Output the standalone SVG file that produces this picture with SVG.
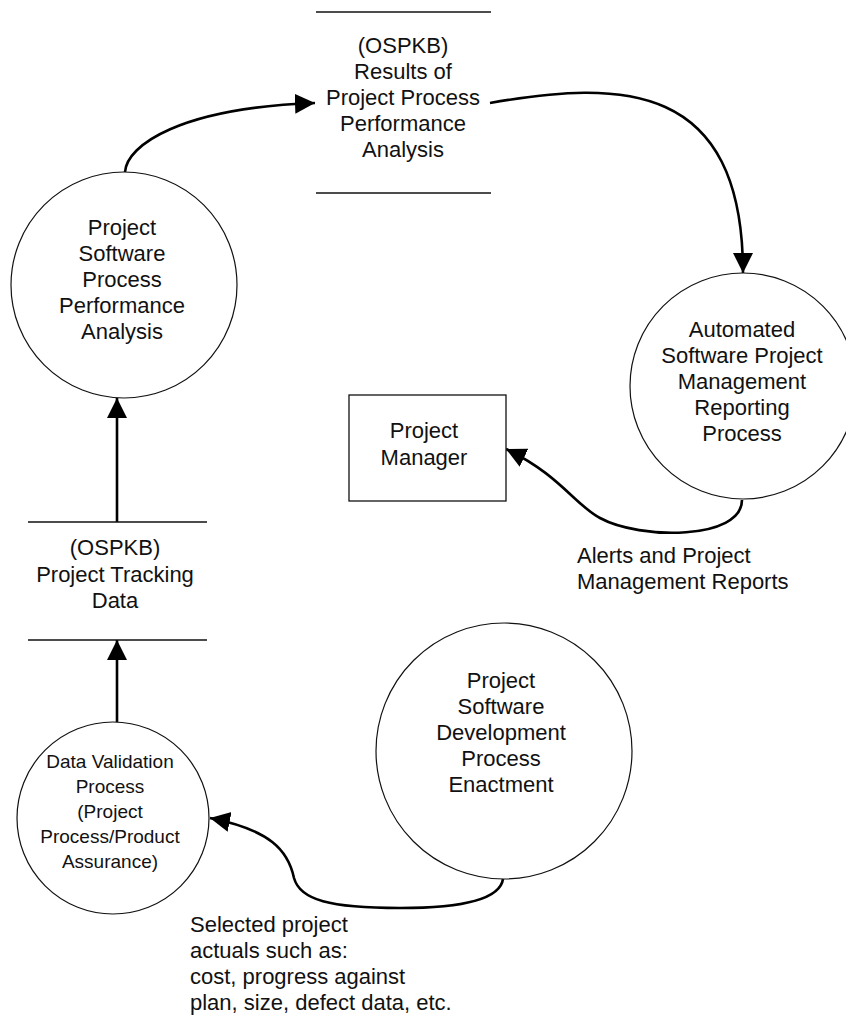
<svg xmlns="http://www.w3.org/2000/svg" width="846" height="1027" viewBox="0 0 846 1027">
  <style>
    .bg { fill: #ffffff; }
    .proc { fill: #ffffff; stroke: #111; stroke-width: 1.2; }
    .ent { fill: #ffffff; stroke: #111; stroke-width: 1.3; }
    .store { stroke: #111; stroke-width: 1.6; fill: none; }
    .flow { fill: none; stroke: #000; stroke-width: 2.6; }
    text { font-family: "Liberation Sans", Arial, sans-serif; font-size: 22px; fill: #111; }
    .c { text-anchor: middle; }
    .small { font-size: 19px; }
  </style>
  <defs>
    <marker id="arrow" markerUnits="userSpaceOnUse" markerWidth="22" markerHeight="22" refX="20" refY="10" orient="auto">
      <path d="M0,0 L20,10 L0,20 z" fill="#000"/>
    </marker>
  </defs>

  <rect class="bg" x="0" y="0" width="846" height="1027"/>

  <!-- data flows -->
  <g id="connectors">
    <path class="flow" d="M125,172 C127,145 180,108 315,103" marker-end="url(#arrow)"/>
    <path class="flow" d="M490,103 C620,80 743,80 743,273" marker-end="url(#arrow)"/>
    <path class="flow" d="M742,500 C742,540 640,540 600,518 C575,505 560,475 506,449" marker-end="url(#arrow)"/>
    <path class="flow" d="M117,522 L117,398" marker-end="url(#arrow)"/>
    <path class="flow" d="M117,722 L117,640" marker-end="url(#arrow)"/>
    <path class="flow" d="M503,879 C500,900 460,908 400,908 C330,908 300,900 294,878 C288,850 270,830 210,818" marker-end="url(#arrow)"/>
  </g>

  <!-- process: performance analysis -->
  <g id="perf-analysis">
    <circle class="proc" cx="124" cy="285" r="113"/>
    <text class="c" x="122" y="235">Project</text>
    <text class="c" x="122" y="261">Software</text>
    <text class="c" x="122" y="287">Process</text>
    <text class="c" x="122" y="313">Performance</text>
    <text class="c" x="122" y="339">Analysis</text>
  </g>

  <!-- data store: analysis results -->
  <g id="store-results">
    <line class="store" x1="316" y1="12" x2="491" y2="12"/>
    <line class="store" x1="316" y1="193" x2="491" y2="193"/>
    <text class="c" x="403" y="53">(OSPKB)</text>
    <text class="c" x="403" y="79">Results of</text>
    <text class="c" x="403" y="105">Project Process</text>
    <text class="c" x="403" y="131">Performance</text>
    <text class="c" x="403" y="157">Analysis</text>
  </g>

  <!-- process: automated reporting -->
  <g id="auto-reporting">
    <circle class="proc" cx="743" cy="386" r="113"/>
    <text class="c" x="742" y="337">Automated</text>
    <text class="c" x="742" y="363">Software Project</text>
    <text class="c" x="742" y="389">Management</text>
    <text class="c" x="742" y="415">Reporting</text>
    <text class="c" x="742" y="441">Process</text>
  </g>

  <!-- external entity -->
  <g id="project-manager">
    <rect class="ent" x="349" y="395" width="157" height="106"/>
    <text class="c" x="424" y="438">Project</text>
    <text class="c" x="424" y="465">Manager</text>
  </g>

  <g id="label-alerts">
    <text x="577" y="563">Alerts and Project</text>
    <text x="577" y="589">Management Reports</text>
  </g>

  <!-- data store: tracking data -->
  <g id="store-tracking">
    <line class="store" x1="28" y1="522" x2="207" y2="522"/>
    <line class="store" x1="28" y1="640" x2="207" y2="640"/>
    <text class="c" x="115" y="555">(OSPKB)</text>
    <text class="c" x="115" y="582">Project Tracking</text>
    <text class="c" x="115" y="608">Data</text>
  </g>

  <!-- process: development enactment -->
  <g id="dev-enactment">
    <circle class="proc" cx="504" cy="751" r="128"/>
    <text class="c" x="501" y="688">Project</text>
    <text class="c" x="501" y="714">Software</text>
    <text class="c" x="501" y="740">Development</text>
    <text class="c" x="501" y="766">Process</text>
    <text class="c" x="501" y="792">Enactment</text>
  </g>

  <!-- process: data validation -->
  <g id="data-validation">
    <circle class="proc" cx="113" cy="818" r="96"/>
    <text class="c small" x="110" y="768">Data Validation</text>
    <text class="c small" x="110" y="793">Process</text>
    <text class="c small" x="110" y="818">(Project</text>
    <text class="c small" x="110" y="843">Process/Product</text>
    <text class="c small" x="110" y="868">Assurance)</text>
  </g>

  <g id="label-actuals">
    <text x="190" y="932">Selected project</text>
    <text x="190" y="958">actuals such as:</text>
    <text x="190" y="984">cost, progress against</text>
    <text x="190" y="1010">plan, size, defect data, etc.</text>
  </g>
</svg>
